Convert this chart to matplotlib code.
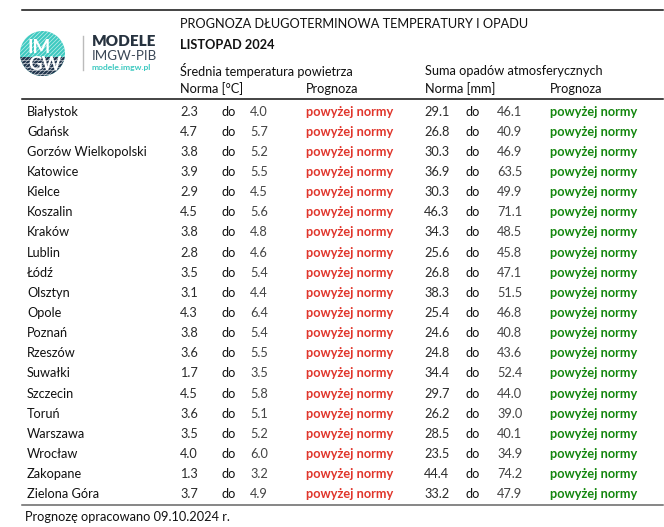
import matplotlib
matplotlib.use("Agg")
import matplotlib.pyplot as plt
from matplotlib.patches import Circle, Rectangle
import numpy as np

plt.rcParams['font.family'] = ['Lato', 'DejaVu Sans']

cities = ["Białystok", "Gdańsk", "Gorzów Wielkopolski", "Katowice", "Kielce",
          "Koszalin", "Kraków", "Lublin", "Łódź", "Olsztyn", "Opole", "Poznań",
          "Rzeszów", "Suwałki", "Szczecin", "Toruń", "Warszawa", "Wrocław",
          "Zakopane", "Zielona Góra"]
temp_low = [2.3, 4.7, 3.8, 3.9, 2.9, 4.5, 3.8, 2.8, 3.5, 3.1, 4.3, 3.8, 3.6, 1.7, 4.5, 3.6, 3.5, 4.0, 1.3, 3.7]
temp_high = [4.0, 5.7, 5.2, 5.5, 4.5, 5.6, 4.8, 4.6, 5.4, 4.4, 6.4, 5.4, 5.5, 3.5, 5.8, 5.1, 5.2, 6.0, 3.2, 4.9]
temp_prog = ["powyżej normy"] * 20
prec_low = [29.1, 26.8, 30.3, 36.9, 30.3, 46.3, 34.3, 25.6, 26.8, 38.3, 25.4, 24.6, 24.8, 34.4, 29.7, 26.2, 28.5, 23.5, 44.4, 33.2]
prec_high = [46.1, 40.9, 46.9, 63.5, 49.9, 71.1, 48.5, 45.8, 47.1, 51.5, 46.8, 40.8, 43.6, 52.4, 44.0, 39.0, 40.1, 34.9, 74.2, 47.9]
prec_prog = ["powyżej normy"] * 20

title = "PROGNOZA DŁUGOTERMINOWA TEMPERATURY I OPADU"
subtitle = "LISTOPAD 2024"
footer = "Prognozę opracowano 09.10.2024 r."

W, H = 664, 527
fig = plt.figure(figsize=(W / 100, H / 100), dpi=100)
ax = fig.add_axes([0, 0, 1, 1])
ax.set_xlim(0, W)
ax.set_ylim(H, 0)
ax.axis('off')

RED = "#e0352b"
GREEN = "#14870f"
TXT = "#111111"
fs = 9.2

# rules
ax.plot([22, 663], [10, 10], color="#111111", lw=1.1)
ax.plot([22, 663], [98.5, 98.5], color="#111111", lw=1.1)
ax.plot([22, 663], [505, 505], color="#666666", lw=1.1)

# header texts
ax.text(180, 24, title, fontsize=fs, color=TXT, va='center', ha='left')
ax.text(180, 45, subtitle, fontsize=fs, color=TXT, va='center', ha='left', fontweight='bold')
ax.text(180, 71, "Średnia temperatura powietrza", fontsize=fs, color=TXT, va='center')
ax.text(425, 71, "Suma opadów atmosferycznych", fontsize=fs, color=TXT, va='center')
ax.text(180, 89, "Norma [°C]", fontsize=fs, color=TXT, va='center')
ax.text(306, 89, "Prognoza", fontsize=fs, color=TXT, va='center')
ax.text(425, 89, "Norma [mm]", fontsize=fs, color=TXT, va='center')
ax.text(550, 89, "Prognoza", fontsize=fs, color=TXT, va='center')

# rows
y0, dy = 111.5, 20.15
for i, c in enumerate(cities):
    y = y0 + i * dy
    ax.text(27, y, c, fontsize=fs, color=TXT, va='center')
    ax.text(180, y, f"{temp_low[i]:.1f}", fontsize=fs, color="#2a2a2a", va='center')
    ax.text(221, y, "do", fontsize=fs, color=TXT, va='center')
    ax.text(250, y, f"{temp_high[i]:.1f}", fontsize=fs, color="#444444", va='center')
    ax.text(306, y, temp_prog[i], fontsize=fs, color=RED, va='center', fontweight='bold')
    ax.text(424, y, f"{prec_low[i]:.1f}", fontsize=fs, color="#2a2a2a", va='center')
    ax.text(465, y, "do", fontsize=fs, color=TXT, va='center')
    ax.text(497, y, f"{prec_high[i]:.1f}", fontsize=fs, color="#444444", va='center')
    ax.text(550, y, prec_prog[i], fontsize=fs, color=GREEN, va='center', fontweight='bold')

ax.text(25, 517, footer, fontsize=fs, color=TXT, va='center')

# logo
cx, cy, r = 42.5, 53.5, 22.5
teal = "#3cc9c0"
navy = "#1d3149"
circ = Circle((cx, cy), r, transform=ax.transData)
ax.add_patch(Circle((cx, cy), r, facecolor=teal, edgecolor='none'))
for k in np.arange(-40, 40, 4):
    ln, = ax.plot([cx + k - 25, cx + k + 25], [cy + 25, cy - 25], color='white', lw=0.6, alpha=0.6)
    ln.set_clip_path(circ)
lower = Rectangle((cx - r, cy + 3), 2 * r, r, facecolor=navy, edgecolor='none')
ax.add_patch(lower)
lower.set_clip_path(circ)
for yy in np.arange(cy + 6, cy + r, 3.5):
    ln, = ax.plot([cx - r, cx + r], [yy, yy], color='white', lw=0.5, alpha=0.7)
    ln.set_clip_path(circ)
ax.text(cx - 3, cy - 6, "IM", fontsize=13.5, color='white', fontweight='bold', ha='center', va='center')
ax.text(cx + 2, cy + 11, "GW", fontsize=13.5, color='white', fontweight='bold', ha='center', va='center')
ax.plot([83, 83], [36, 70], color="#bbbbbb", lw=1)
ax.text(92, 41, "MODELE", fontsize=11, color="#26323f", fontweight='heavy', va='center')
ax.text(92, 56, "IMGW-PIB", fontsize=9.6, color="#3a4756", va='center')
ax.text(92, 67.5, "modele.imgw.pl", fontsize=6.1, color=teal, fontweight='bold', va='center')

fig.savefig("out.png", dpi=100, facecolor='white')
